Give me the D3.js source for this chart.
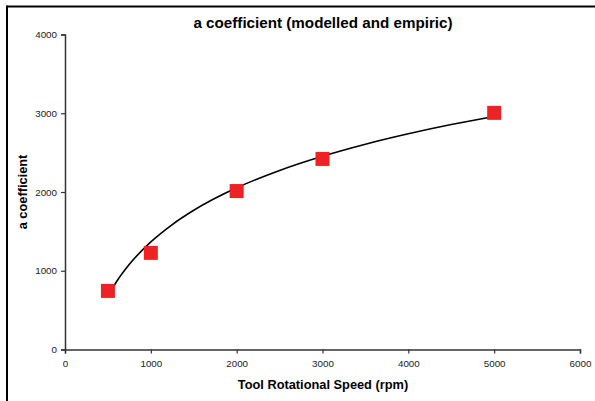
<!DOCTYPE html>
<html><head><meta charset="utf-8">
<script src="https://cdn.jsdelivr.net/npm/d3@7"></script>
<style>body{margin:0;background:#fff}svg{display:block}</style>
</head><body>
<svg id="c" width="595" height="401"></svg>
<script>
// Empiric measurements
const empiricX = [500, 1000, 2000, 3000, 5000];
const empiricA = [744, 1227, 2012, 2420, 3005];
// Modelled curve
const modelX = [500, 600, 750, 1000, 1250, 1500, 2000, 2500, 3000, 3500, 4000, 4500, 5000];
const modelA = [680, 861, 1082, 1366, 1587, 1768, 2053, 2274, 2454, 2607, 2739, 2856, 2960];
const xTicks = [0, 1000, 2000, 3000, 4000, 5000, 6000];
const yTicks = [0, 1000, 2000, 3000, 4000];

(function () {
const svg = d3.select("#c");
const pL = 65, pR = 580, pT = 34.5, pB = 349.5;
const x = d3.scaleLinear().domain([0, 6000]).range([pL, pR]);
const y = d3.scaleLinear().domain([0, 4000]).range([pB, pT]);

// frame (top and left visible)
svg.append("line").attr("x1", 7).attr("x2", 595).attr("y1", 6.5).attr("y2", 6.5).attr("stroke", "#000").attr("stroke-width", 2);
svg.append("line").attr("x1", 7).attr("x2", 7).attr("y1", 5.5).attr("y2", 401).attr("stroke", "#000").attr("stroke-width", 2);

const xAxis = svg.append("g").attr("transform", `translate(0,${pB})`)
  .call(d3.axisBottom(x).tickValues(xTicks).tickSize(4).tickPadding(7).tickFormat(d3.format("d")));
const yAxis = svg.append("g").attr("transform", `translate(${pL},0)`)
  .call(d3.axisLeft(y).tickValues(yTicks).tickSize(4).tickPadding(4).tickFormat(d3.format("d")));
[xAxis, yAxis].forEach(g => {
  g.select(".domain").attr("stroke", "#333").attr("stroke-width", 1.5);
  g.selectAll(".tick line").attr("stroke", "#333").attr("stroke-width", 1.2);
  g.selectAll("text").attr("font-family", "Liberation Sans, Arial, sans-serif").attr("font-size", 9.8).attr("fill", "#222");
});

// modelled curve
const line = d3.line().x(d => x(d[0])).y(d => y(d[1])).curve(d3.curveMonotoneX);
svg.append("path").datum(modelX.map((v, i) => [v, modelA[i]]))
  .attr("d", line).attr("fill", "none").attr("stroke", "#000").attr("stroke-width", 1.6);

// empiric points
const s = 14;
svg.selectAll("rect.pt").data(empiricX.map((v, i) => [v, empiricA[i]])).enter()
  .append("rect").attr("class", "pt")
  .attr("x", d => x(d[0]) - s / 2).attr("y", d => y(d[1]) - s / 2)
  .attr("width", s).attr("height", s).attr("fill", "#ee2224");

// titles
svg.append("text").attr("x", 323).attr("y", 28).attr("text-anchor", "middle")
  .attr("font-family", "Liberation Sans, Arial, sans-serif").attr("font-weight", "bold").attr("font-size", 15.2)
  .text("a coefficient (modelled and empiric)");
svg.append("text").attr("x", 323).attr("y", 389).attr("text-anchor", "middle")
  .attr("font-family", "Liberation Sans, Arial, sans-serif").attr("font-weight", "bold").attr("font-size", 12.8)
  .text("Tool Rotational Speed (rpm)");
svg.append("text").attr("transform", "translate(27,192) rotate(-90)").attr("text-anchor", "middle")
  .attr("font-family", "Liberation Sans, Arial, sans-serif").attr("font-weight", "bold").attr("font-size", 12.8)
  .text("a coefficient");
})();
</script>
</body></html>
